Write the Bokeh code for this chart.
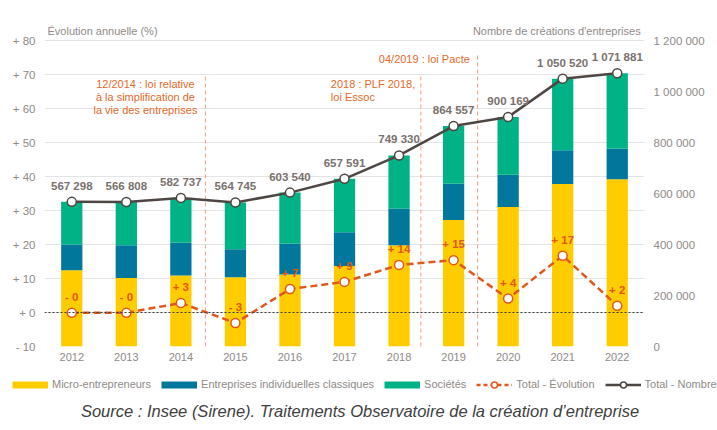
from bokeh.plotting import figure
from bokeh.layouts import column
from bokeh.models import (Range1d, FactorRange, LinearAxis, FixedTicker, Label,
                          Legend, LegendItem, Span, ColumnDataSource)
from bokeh.embed import file_html
from bokeh.resources import INLINE
from bokeh.core.properties import value

# ---------------- data ----------------
years = ["2012", "2013", "2014", "2015", "2016", "2017", "2018", "2019", "2020", "2021", "2022"]
micro = [299000, 268700, 278000, 271500, 282000, 316000, 397400, 495700, 546900, 637400, 655800]
ei_classiques = [101100, 128700, 128400, 110100, 120500, 132500, 142900, 142900, 127000, 132500, 120500]
societes = [167200, 169400, 176300, 183100, 201000, 209100, 209000, 226000, 226300, 280600, 295600]
total_nombre = [567298, 566808, 582737, 564745, 603540, 657591, 749330, 864557, 900169, 1050520, 1071881]
total_evolution = [-0.1, -0.1, 2.8, -3.1, 6.9, 9.0, 14.0, 15.4, 4.1, 16.7, 2.0]

left_ticks = [-10, 0, 10, 20, 30, 40, 50, 60, 70, 80]
left_tick_labels = ["- 10", "+ 0", "+ 10", "+ 20", "+ 30", "+ 40", "+ 50", "+ 60", "+ 70", "+ 80"]
right_ticks = [0, 200000, 400000, 600000, 800000, 1000000, 1200000]
right_tick_labels = ["0", "200 000", "400 000", "600 000", "800 000", "1 000 000", "1 200 000"]

series_names = ["Micro-entrepreneurs", "Entreprises individuelles classiques", "Sociétés"]

FONT = "Liberation Sans"
C_MICRO = "#FFCC00"
C_EI = "#00779B"
C_SOC = "#00B386"
C_EVO = "#E2571C"
C_TOT = "#4E4642"
C_ANNOT = "#E4692A"
C_GRAY = "#8F8A86"
C_VAL = "#7A716D"

total_labels = [f"{v:,}".replace(",", " ") for v in total_nombre]
evo_labels = [("+ " if v >= 0 else "- ") + str(abs(round(v))) for v in total_evolution]

src = ColumnDataSource(dict(year=years, micro=micro, ei=ei_classiques, soc=societes,
                            total=total_nombre, evo=total_evolution,
                            tlab=total_labels, elab=evo_labels))

Y_TOP = 85.3  # headroom above +80 for the axis titles
p = figure(width=717, height=370, x_range=FactorRange(factors=years, range_padding=0),
           y_range=Range1d(-10, Y_TOP), output_backend="svg", toolbar_location=None,
           min_border_left=44, min_border_right=73, min_border_top=22, min_border_bottom=24,
           outline_line_color=None, background_fill_color="white")
p.frame_align = False
p.extra_y_ranges = {"count": Range1d(0, (Y_TOP + 10) / 90 * 1200000)}

# grid
p.xgrid.grid_line_color = None
p.ygrid.ticker = FixedTicker(ticks=left_ticks)
p.ygrid.grid_line_color = "#E4E4E4"
p.ygrid.grid_line_width = 1

def style_axis(ax, standoff):
    ax.axis_line_color = None
    ax.major_tick_line_color = None
    ax.minor_tick_line_color = None
    ax.major_tick_in = 0
    ax.major_tick_out = 0
    ax.minor_tick_in = 0
    ax.minor_tick_out = 0
    ax.major_label_text_font = FONT
    ax.major_label_text_font_size = "11.5px"
    ax.major_label_text_color = C_GRAY
    ax.major_label_standoff = standoff

yl = p.yaxis[0]
yl.ticker = FixedTicker(ticks=left_ticks)
yl.major_label_overrides = dict(zip(left_ticks, left_tick_labels))
style_axis(yl, 9)

yr = LinearAxis(y_range_name="count", ticker=FixedTicker(ticks=right_ticks),
                major_label_overrides=dict(zip(right_ticks, right_tick_labels)))
style_axis(yr, 9)
p.add_layout(yr, "right")

xa = p.xaxis[0]
style_axis(xa, 6)
xa.major_label_text_font_size = "11px"

# stacked bars
p.vbar_stack(["micro", "ei", "soc"], x="year", width=0.39, source=src,
             fill_color=[C_MICRO, C_EI, C_SOC], line_color=None, y_range_name="count")

# vertical dashed event lines
p.segment(x0=[2.95, 6.9, 7.94], y0=[-10, -10, -10], x1=[2.95, 6.9, 7.94], y1=[69.6, 69.6, 76.3],
          line_color="#F2A07C", line_dash="4 3", line_width=1)

# zero line
p.add_layout(Span(location=0, dimension="width", line_color="#3A3A3A",
                  line_dash="2 2", line_width=1))

# total nombre line
p.line("year", "total", source=src, y_range_name="count", line_color=C_TOT, line_width=2.5)
p.scatter("year", "total", source=src, y_range_name="count", size=9,
          fill_color="white", line_color=C_TOT, line_width=1.5)

# evolution line
p.line("year", "evo", source=src, line_color=C_EVO, line_width=2.5, line_dash="7 4")
p.scatter("year", "evo", source=src, size=9, fill_color="white",
          line_color=C_EVO, line_width=1.5)

# value labels
p.text("year", "total", text="tlab", source=src, y_range_name="count", y_offset=-16,
       text_align="center", text_baseline="middle", text_font=value(FONT),
       text_font_size="11.5px", text_font_style="bold", text_color=C_VAL)
p.text("year", "evo", text="elab", source=src, y_offset=-16,
       text_align="center", text_baseline="middle", text_font=value(FONT),
       text_font_size="11.5px", text_font_style="bold", text_color=C_EVO)

# annotations
p.text(x=[1.85, 1.85, 1.85], y=[67.2, 63.4, 59.6],
       text=["12/2014 : loi relative", "à la simplification de", "la vie des entreprises"],
       text_align="center", text_baseline="middle", text_font=value(FONT),
       text_font_size="11px", text_color=C_ANNOT)
p.text(x=[5.25, 5.25], y=[67.2, 63.4], text=["2018 : PLF 2018,", "loi Essoc"],
       text_align="left", text_baseline="middle", text_font=value(FONT),
       text_font_size="11px", text_color=C_ANNOT)
p.text(x=[7.8], y=[74.6], text=["04/2019 : loi Pacte"],
       text_align="right", text_baseline="middle", text_font=value(FONT),
       text_font_size="11px", text_color=C_ANNOT)

# axis titles
p.add_layout(Label(x=0.055, y=82.8, text="Évolution annuelle (%)", text_align="left",
                   text_baseline="middle", text_font=FONT, text_font_size="11px",
                   text_color=C_GRAY))
p.add_layout(Label(x=10.93, y=82.8, text="Nombre de créations d'entreprises", text_align="right",
                   text_baseline="middle", text_font=FONT, text_font_size="11px",
                   text_color=C_GRAY))

# ---------------- legend + source strip ----------------
q = figure(width=717, height=60, x_range=Range1d(0, 717), y_range=Range1d(0, 60),
           x_axis_type=None, y_axis_type=None, output_backend="svg", toolbar_location=None,
           min_border_left=0, min_border_right=0, min_border_top=0, min_border_bottom=0,
           outline_line_color=None, background_fill_color="white")
q.frame_align = False
q.grid.visible = False

# off-screen proxy glyphs used only for the legend swatches
OFF_X = [-1000, -999]
OFF_Y = [-1000, -1000]
pm = q.line(x=OFF_X, y=OFF_Y, line_color=C_MICRO, line_width=7)
pe = q.line(x=OFF_X, y=OFF_Y, line_color=C_EI, line_width=7)
pso = q.line(x=OFF_X, y=OFF_Y, line_color=C_SOC, line_width=7)
qel = q.line(x=OFF_X, y=OFF_Y, line_color=C_EVO, line_width=2.5, line_dash="4 3")
qes = q.scatter(x=OFF_X, y=OFF_Y, size=9, fill_color="white", line_color=C_EVO, line_width=1.5)
qtl = q.line(x=OFF_X, y=OFF_Y, line_color=C_TOT, line_width=2.5)
qts = q.scatter(x=OFF_X, y=OFF_Y, size=9, fill_color="white", line_color=C_TOT, line_width=1.5)

legend = Legend(items=[
    LegendItem(label=series_names[0], renderers=[pm]),
    LegendItem(label=series_names[1], renderers=[pe]),
    LegendItem(label=series_names[2], renderers=[pso]),
    LegendItem(label="Total - Évolution", renderers=[qel, qes]),
    LegendItem(label="Total - Nombre", renderers=[qtl, qts]),
], orientation="horizontal", location=(12, 38.5))
legend.glyph_width = 36
legend.glyph_height = 15
legend.label_height = 15
legend.label_standoff = 4
legend.spacing = 10
legend.padding = 0
legend.margin = 0
legend.border_line_color = None
legend.background_fill_alpha = 0
legend.label_text_font = FONT
legend.label_text_font_size = "11px"
legend.label_text_color = C_GRAY
legend.label_text_baseline = "middle"
q.add_layout(legend)

q.add_layout(Label(x=359.5, y=20, text="Source : Insee (Sirene). Traitements Observatoire de la création d’entreprise",
                   text_align="center", text_baseline="middle", text_font=FONT,
                   text_font_size="16.5px", text_font_style="italic", text_color="#404040"))

layout = column(p, q, spacing=0)
open("out.html", "w").write(file_html(layout, INLINE))
